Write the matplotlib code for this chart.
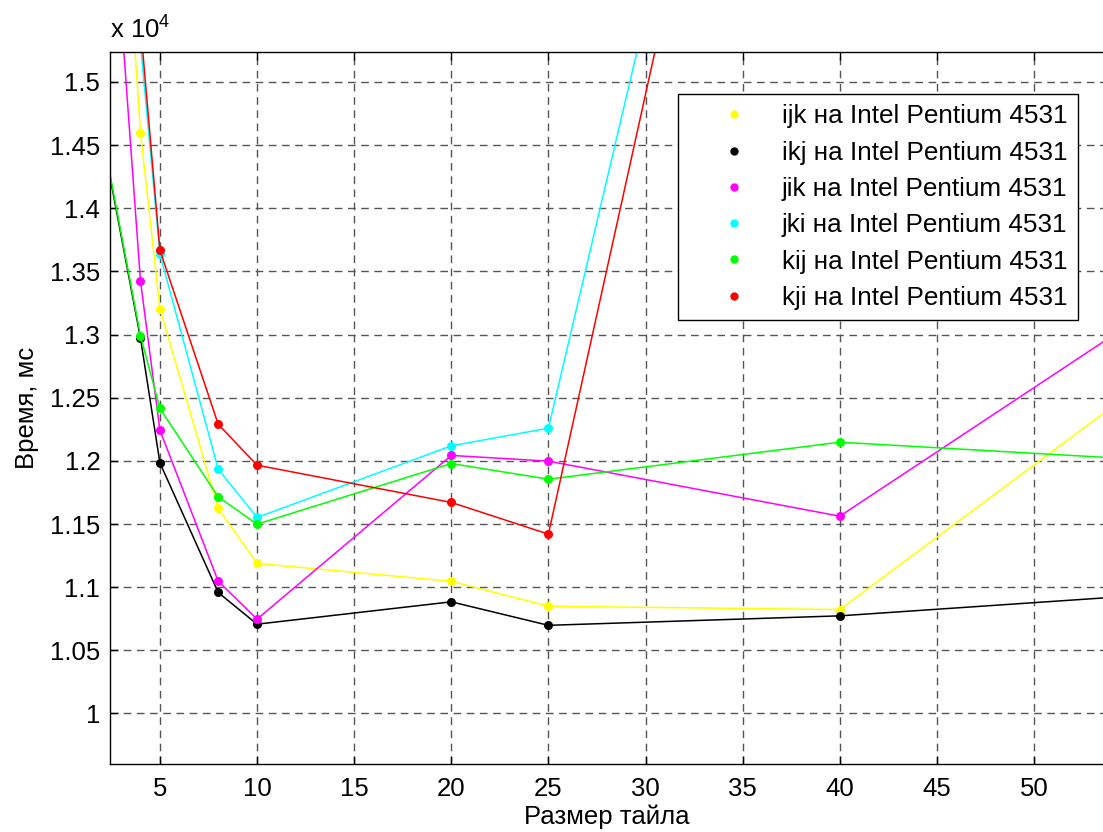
import numpy as np
import matplotlib.pyplot as plt
from matplotlib.lines import Line2D
from matplotlib.ticker import FuncFormatter, MultipleLocator

plt.rcParams['font.family'] = ['Liberation Sans', 'DejaVu Sans']
plt.rcParams['mathtext.fontset'] = 'custom'
plt.rcParams['mathtext.rm'] = 'Liberation Sans'

# размер тайла и время (мс) для каждого порядка циклов
tile = [2, 4, 5, 8, 10, 20, 25, 40, 100]
ijk = [19200, 14597, 13204, 11623, 11188, 11047, 10849, 10823, 17690]
ikj = [14600, 12970, 11984, 10958, 10707, 10884, 10698, 10773, 11400]
jik = [17660, 13423, 12243, 11047, 10747, 12043, 11998, 11562, 17670]
jki = [18600, 15300, 13637, 11934, 11552, 12119, 12259, 22070, 25000]
kij = [14620, 12990, 12415, 11715, 11499, 11979, 11855, 12148, 11620]
kji = [19000, 15450, 13668, 12290, 11966, 11671, 11420, 21870, 26000]

series = [ijk, ikj, jik, jki, kij, kji]
names = ["ijk", "ikj", "jik", "jki", "kij", "kji"]
colors = ["#ffff00", "#000000", "#ff00ff", "#00ffff", "#00ff00", "#ff0000"]

fs = 18.5

fig = plt.figure(figsize=(11.03, 8.32), dpi=100)
ax = fig.add_axes([110/1103, 1-764/832, 1-110/1103, (764-52.3)/832])

for vals, c in zip(series, colors):
    ax.plot(tile, vals, '-', color=c, lw=1.1, marker='o', ms=6.5, markeredgewidth=0)

ax.set_xlim(2.43, 53.55)
ax.set_ylim(9600, 15235)
ax.xaxis.set_major_locator(MultipleLocator(5))
ax.yaxis.set_major_locator(MultipleLocator(500))
ax.yaxis.set_major_formatter(FuncFormatter(lambda v, p: "%g" % (v / 1e4)))

ax.grid(True, color='#555555', linestyle=(0, (5.5, 4)), lw=1)
ax.tick_params(direction='in', length=6, width=1, labelsize=fs, top=True, right=False)
ax.tick_params(axis='y', pad=7)
ax.tick_params(axis='x', pad=9)
ax.spines['right'].set_visible(False)
for s in ['left', 'top', 'bottom']:
    ax.spines[s].set_linewidth(1)

ax.set_xlabel("Размер тайла", fontsize=fs, labelpad=3)
ax.set_ylabel("Время, мс", fontsize=fs, labelpad=8)
fig.text(110/1103, 1-38/832, r"x 10$^4$", fontsize=fs, ha='left', va='baseline')

handles = [Line2D([], [], ls='none', marker='o', color=c, ms=6, markeredgewidth=0) for c in colors]
labels = [n + " на Intel Pentium 4531" for n in names]
leg = ax.legend(handles, labels, loc='upper left', bbox_to_anchor=(678/1103, 1-94/832),
                bbox_transform=fig.transFigure, borderaxespad=0, fontsize=18.8,
                handlelength=3.5, handletextpad=0.07, borderpad=0.4, labelspacing=0.47,
                fancybox=False, framealpha=1, edgecolor='black')
leg.get_frame().set_linewidth(1)

fig.savefig("out.png", dpi=100)
